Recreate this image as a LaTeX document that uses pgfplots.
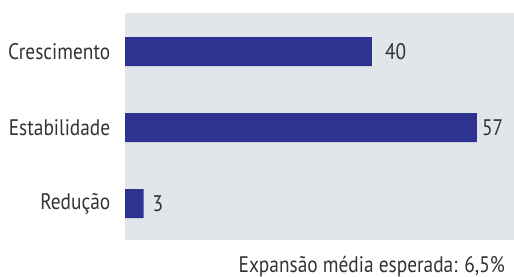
\documentclass[border=0pt]{standalone}
\usepackage{pgfplots}
\pgfplotsset{compat=1.18}
\usepackage{fontspec}
\setmainfont[FakeStretch=0.86]{PT Sans}
\definecolor{barblue}{RGB}{46,50,145}
\definecolor{bggray}{RGB}{226,230,234}
\definecolor{txt}{RGB}{51,51,51}
\newcommand{\lbl}{\fontsize{22.5bp}{26bp}\selectfont\color{txt}}
\begin{document}
\begin{tikzpicture}
\path[use as bounding box] (0,0) rectangle (514bp,277bp);
\begin{axis}[
  at={(125bp,37bp)}, anchor=south west,
  scale only axis, width=389bp, height=227bp,
  xbar, bar width=29bp, bar shift=0pt,
  xmin=0, xmax=63, ymin=-0.48, ymax=2.51,
  axis background/.style={fill=bggray},
  axis line style={draw=none},
  major tick style={draw=none},
  xtick=\empty,
  ytick={0,1,2},
  yticklabels={Redução,Estabilidade,Crescimento},
  yticklabel style={font=\lbl, xshift=-7bp},
  clip=false,
]
\addplot[fill=barblue, draw=none] coordinates {(3,0) (57,1) (40,2)};
\node[anchor=west, font=\lbl, inner sep=0pt] at (axis cs:40,2) [xshift=13bp] {40};
\node[anchor=west, font=\lbl, inner sep=0pt] at (axis cs:57,1) [xshift=5bp] {57};
\node[anchor=west, font=\lbl, inner sep=0pt] at (axis cs:3,0) [xshift=9bp] {3};
\end{axis}
\node[anchor=base east, font=\lbl, inner sep=0pt] at (505bp,5bp) {Expansão média esperada: 6,5\%};
\end{tikzpicture}
\end{document}
